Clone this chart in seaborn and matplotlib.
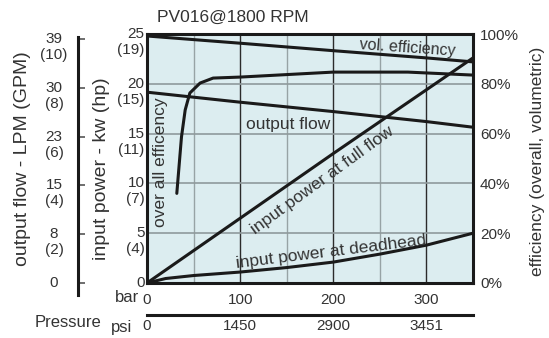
import numpy as np
import matplotlib
matplotlib.use("Agg")
import matplotlib.pyplot as plt
import matplotlib.transforms as mtransforms
import seaborn as sns

# --- data ---
# input power (kw) vs pressure (bar)
full_flow_bar = [0, 100, 200, 300, 350]
full_flow_kw = [0, 6.5, 13.0, 19.4, 22.6]
deadhead_bar = [0, 20, 50, 100, 150, 200, 250, 300, 350]
deadhead_kw = [0, 0.45, 0.75, 1.1, 1.55, 2.1, 2.9, 3.8, 5.0]
# output flow (LPM)
flow_bar = [0, 100, 200, 300, 350]
flow_lpm = [30.5, 28.9, 27.4, 25.8, 24.9]
# efficiencies (%)
vol_bar = [0, 100, 200, 300, 350]
vol_eff = [99.2, 96.3, 93.3, 90.4, 88.8]
overall_bar = [32, 37, 41, 46, 57, 71, 100, 200, 280, 350]
overall_eff = [36, 58.6, 69.5, 76.3, 80.3, 82.3, 82.7, 84.7, 84.7, 83.5]

# axis tick labels
bar_ticks = [0, 100, 200, 300]
psi_labels = ["0", "1450", "2900", "3451"]
kw_ticks = [0, 5, 10, 15, 20, 25]
hp_labels = ["", "(4)", "(7)", "(11)", "(15)", "(19)"]
lpm_ticks = [0, 7.8, 15.6, 23.4, 31.2, 39]
lpm_labels = ["0", "8", "15", "23", "30", "39"]
gpm_labels = ["", "(2)", "(4)", "(6)", "(8)", "(10)"]
eff_ticks = [0, 20, 40, 60, 80, 100]

sns.set_style("white")
plt.rcParams['font.family'] = ['Liberation Sans', 'DejaVu Sans']

TXT = '#333333'
LINE = '#1a1a1a'
W = 2.2

fig = plt.figure(figsize=(5.49, 3.38), dpi=100)
ax = fig.add_axes([147 / 549, 1 - 283 / 338, 326 / 549, 249 / 338])
ax.set_facecolor('#dcedf0')
ax.set_xlim(0, 350)
ax.set_ylim(0, 25)

# grid
ax.set_xticks(bar_ticks)
ax.set_xticks([50, 150, 250], minor=True)
ax.set_yticks(kw_ticks)
ax.grid(which='major', axis='x', color='#2b2b2b', lw=1.0)
ax.grid(which='minor', axis='x', color='#97a3a5', lw=1.0)
ax.grid(which='major', axis='y', color='#8f9a9c', lw=1.2)
ax.set_axisbelow(True)
for s in ax.spines.values():
    s.set_linewidth(W)
    s.set_color(LINE)
ax.tick_params(axis='both', which='both', length=0)
ax.tick_params(axis='x', labelsize=11, labelcolor=TXT, pad=7)
ax.set_yticklabels([])

# power curves
sns.lineplot(x=full_flow_bar, y=full_flow_kw, ax=ax, color=LINE, lw=W)
sns.lineplot(x=deadhead_bar, y=deadhead_kw, ax=ax, color=LINE, lw=W)

# kw / hp labels
ytr = mtransforms.blended_transform_factory(ax.transAxes, ax.transData)
ytr2 = mtransforms.offset_copy(ytr, fig=fig, y=-16, units='dots')
for t, hp in zip(kw_ticks, hp_labels):
    ax.text(-0.008, t, str(t), transform=ytr, ha='right', va='center',
            fontsize=11, color=TXT)
    if hp:
        ax.text(-0.008, t, hp, transform=ytr2, ha='right', va='center',
                fontsize=11, color=TXT)

# efficiency axis (right)
ax_eff = ax.twinx()
ax_eff.set_ylim(0, 100)
ax_eff.set_yticks(eff_ticks)
ax_eff.set_yticklabels([f"{v}%" for v in eff_ticks])
ax_eff.tick_params(axis='y', length=0, pad=5, labelsize=11, labelcolor=TXT)
for s in ax_eff.spines.values():
    s.set_visible(False)
sns.lineplot(x=vol_bar, y=vol_eff, ax=ax_eff, color=LINE, lw=W)
sns.lineplot(x=overall_bar, y=overall_eff, ax=ax_eff, color=LINE, lw=W)
ax_eff.set_ylabel('')

# output flow axis (far left)
ax_flow = ax.twinx()
ax_flow.set_ylim(0, 39.8)
for name, s in ax_flow.spines.items():
    s.set_visible(name == 'left')
ax_flow.spines['left'].set_position(('outward', 50))
ax_flow.spines['left'].set_linewidth(W)
ax_flow.spines['left'].set_color(LINE)
ax_flow.spines['left'].set_bounds(-1.9, 39.3)
ax_flow.yaxis.set_ticks_position('left')
ax_flow.set_yticks(lpm_ticks)
ax_flow.set_yticklabels([])
ax_flow.tick_params(axis='y', direction='in', length=5, width=1.2, color='#555555')
sns.lineplot(x=flow_bar, y=flow_lpm, ax=ax_flow, color=LINE, lw=W)
ax_flow.set_ylabel('')

ftr = mtransforms.blended_transform_factory(ax.transAxes, ax_flow.transData)
ftr2 = mtransforms.offset_copy(ftr, fig=fig, y=-16, units='dots')
for t, lpm, gpm in zip(lpm_ticks, lpm_labels, gpm_labels):
    ax.text(-0.285, t, lpm, transform=ftr, ha='center', va='center',
            fontsize=11, color=TXT)
    if gpm:
        ax.text(-0.285, t, gpm, transform=ftr2, ha='center', va='center',
                fontsize=11, color=TXT)

# psi axis
ax_psi = ax.twiny()
ax_psi.set_xlim(0, 350)
for name, s in ax_psi.spines.items():
    s.set_visible(name == 'bottom')
ax_psi.xaxis.set_ticks_position('bottom')
ax_psi.xaxis.set_label_position('bottom')
ax_psi.spines['bottom'].set_position(('outward', 23))
ax_psi.spines['bottom'].set_linewidth(W)
ax_psi.spines['bottom'].set_color(LINE)
ax_psi.set_xticks(bar_ticks)
ax_psi.set_xticklabels(psi_labels)
ax_psi.tick_params(axis='x', length=0, pad=3, labelsize=11, labelcolor=TXT)

# axis titles
ax.text(-0.141, 0.46, 'input power - kw (hp)', transform=ax.transAxes,
        rotation=90, ha='center', va='center', fontsize=14, color=TXT)
ax.text(-0.383, 0.50, 'output flow - LPM (GPM)', transform=ax.transAxes,
        rotation=90, ha='center', va='center', fontsize=14, color=TXT)
ax.text(1.199, 0.49, 'efficiency (overall, volumetric)', transform=ax.transAxes,
        rotation=90, ha='center', va='center', fontsize=12.5, color=TXT)
ax.text(-0.025, -0.06, 'bar', transform=ax.transAxes, ha='right', va='center',
        fontsize=12, color=TXT)
ax.text(-0.047, -0.178, 'psi', transform=ax.transAxes, ha='right', va='center',
        fontsize=12, color=TXT)
ax.text(-0.242, -0.157, 'Pressure', transform=ax.transAxes, ha='center', va='center',
        fontsize=12, color=TXT)
ax.text(0.031, 1.068, 'PV016@1800 RPM', transform=ax.transAxes, ha='left', va='center',
        fontsize=12.5, color=TXT)

# curve annotations
ax.text(280, 23.6, 'vol. efficiency', rotation=-4, ha='center', va='center',
        fontsize=11.5, color=TXT)
ax.text(152, 15.9, 'output flow', ha='center', va='center', fontsize=12.5, color=TXT)
ax.text(15, 12.1, 'over all efficency', rotation=90, ha='center', va='center',
        fontsize=12.5, color=TXT)
ax.text(188, 10.3, 'input power at full flow', rotation=36, ha='center', va='center',
        fontsize=12.5, color=TXT)
ax.text(198, 3.1, 'input power at deadhead', rotation=7, ha='center', va='center',
        fontsize=12.5, color=TXT)

fig.savefig('out.png', dpi=100)
